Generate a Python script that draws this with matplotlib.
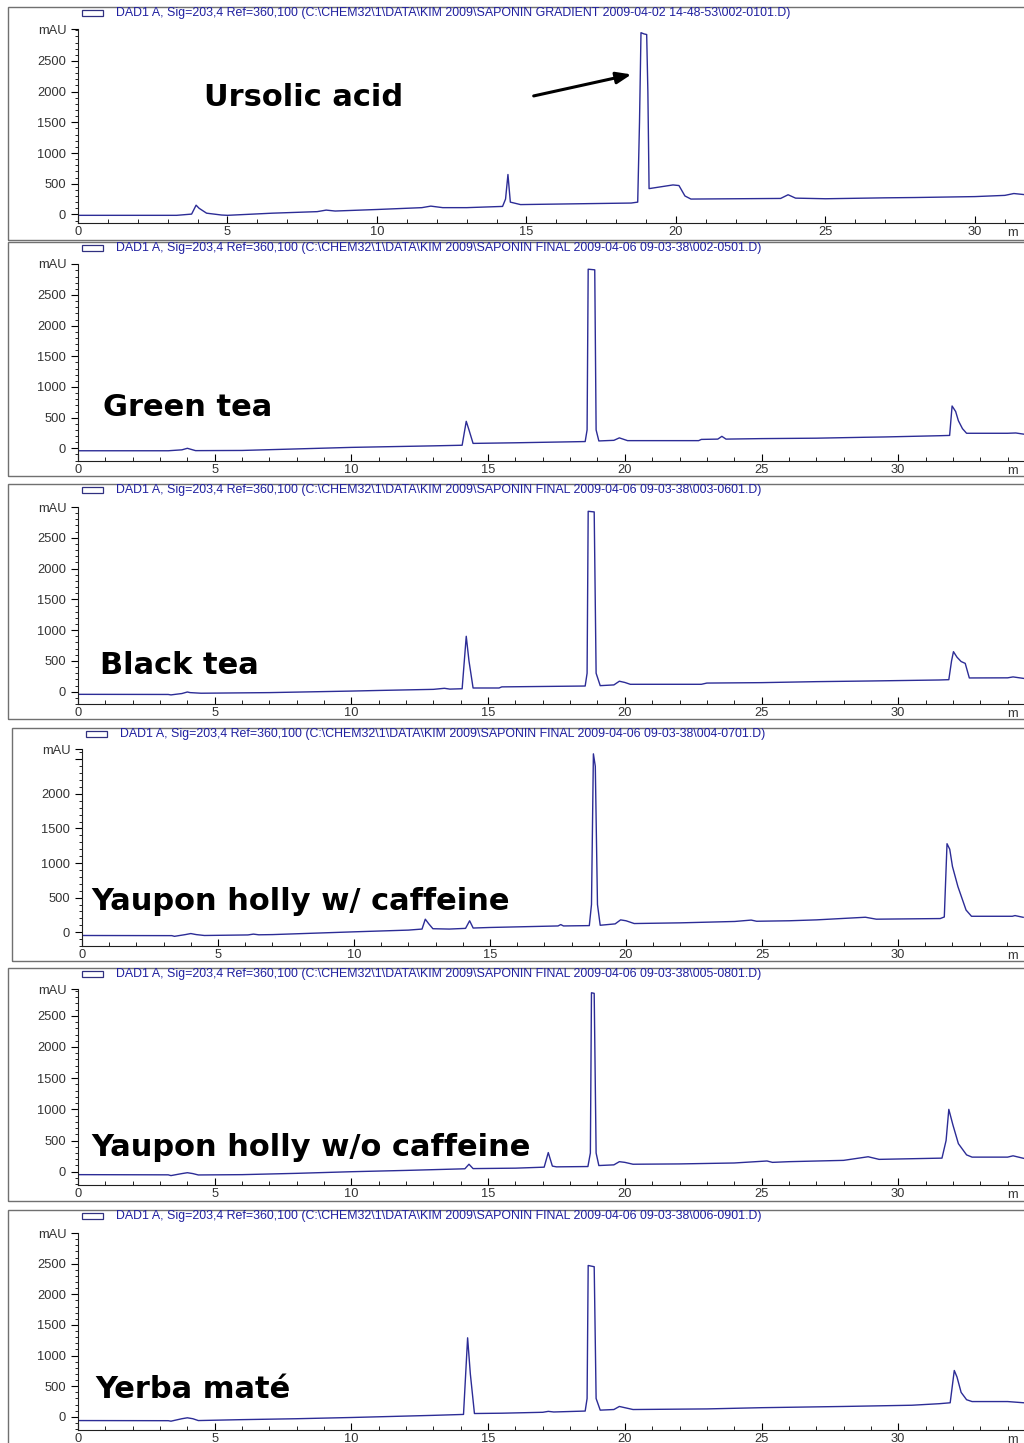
import matplotlib.pyplot as plt
import matplotlib.patches as patches
from matplotlib.ticker import MultipleLocator

W, H = 1024, 1443

# --- chromatogram traces (time in min, signal in mAU) ---
t_ursolic = [0, 3.3, 3.8, 3.95, 4.05, 4.3, 4.8, 5.0, 6.5, 8.0, 8.3, 8.6, 10.0, 11.5, 11.8, 12.2,
             13.0, 14.2, 14.3, 14.38, 14.46, 14.8, 17.0, 18.5, 18.72, 18.78, 18.83, 18.93, 19.02,
             19.06, 19.1, 19.5, 19.9, 20.1, 20.3, 20.5, 23.5, 23.75, 24.0, 25.0, 27.0, 28.0, 30.0,
             31.0, 31.3, 31.7]
v_ursolic = [-15, -15, 5, 150, 100, 20, -10, -15, 20, 45, 70, 55, 80, 110, 135, 110,
             110, 130, 250, 650, 200, 160, 175, 185, 200, 1500, 2960, 2940, 2930,
             2000, 420, 450, 480, 470, 300, 250, 260, 320, 265, 255, 270, 275, 290,
             310, 340, 320]

t_green = [0, 3.3, 3.8, 4.0, 4.3, 6.0, 8.0, 10.0, 13.0, 14.05, 14.2, 14.3, 14.45, 16.0, 18.55,
           18.62, 18.66, 18.9, 18.95, 19.05, 19.6, 19.8, 20.1, 22.7, 22.8, 23.4, 23.55, 23.7,
           25.0, 27.0, 28.8, 29.5, 31.5, 31.88, 31.97, 32.1, 32.2, 32.35, 32.5, 34.0, 34.3, 34.6]
v_green = [-40, -40, -25, 0, -38, -35, -10, 15, 40, 50, 440, 300, 80, 90, 110,
           300, 2920, 2910, 300, 120, 130, 170, 125, 125, 145, 150, 195, 150,
           158, 165, 180, 185, 205, 210, 690, 600, 450, 320, 245, 245, 250, 230]

t_black = [0, 3.3, 3.4, 3.8, 4.0, 4.1, 4.5, 7.0, 10.0, 11.0, 13.0, 13.4, 13.6, 14.05, 14.2, 14.3,
           14.45, 15.4, 15.5, 18.55, 18.62, 18.66, 18.88, 18.95, 19.1, 19.6, 19.8, 20.0, 20.2,
           22.8, 23.0, 25.0, 27.0, 29.0, 31.5, 31.85, 31.95, 32.02, 32.15, 32.3, 32.45, 32.6,
           34.0, 34.2, 34.6]
v_black = [-43, -45, -52, -30, -5, -15, -25, -15, 10, 20, 38, 55, 42, 48, 900, 500,
           60, 60, 78, 92, 300, 2930, 2920, 300, 98, 110, 170, 150, 120,
           120, 140, 147, 163, 174, 190, 195, 500, 650, 560, 490, 460, 223,
           225, 240, 215]

t_yaupon_caf = [0, 3.3, 3.4, 3.8, 4.0, 4.2, 4.5, 6.1, 6.3, 6.5, 7.0, 10.0, 12.0, 12.5, 12.62, 12.75,
                12.9, 13.5, 14.1, 14.25, 14.38, 15.0, 17.5, 17.6, 17.7, 18.65, 18.73, 18.8, 18.87,
                18.95, 19.05, 19.6, 19.8, 20.0, 20.3, 22.0, 24.0, 24.6, 24.8, 26.0, 27.0, 28.8,
                29.2, 31.55, 31.7, 31.8, 31.9, 32.0, 32.2, 32.5, 32.7, 34.2, 34.3, 34.6]
v_yaupon_caf = [-48, -50, -60, -35, -20, -35, -48, -40, -28, -38, -35, 5, 30, 45, 188, 120,
                50, 45, 55, 165, 60, 68, 90, 110, 90, 95, 400, 2580, 2400,
                400, 100, 120, 178, 165, 125, 135, 155, 175, 158, 165, 178, 216,
                188, 197, 220, 1280, 1200, 950, 660, 320, 230, 230, 240, 215]

t_yaupon_nocaf = [0, 3.3, 3.4, 3.8, 4.0, 4.2, 4.4, 6.0, 8.0, 10.0, 12.0, 14.15, 14.3, 14.45, 16.0,
                  17.05, 17.2, 17.35, 17.5, 18.65, 18.74, 18.78, 18.88, 18.95, 19.05, 19.6, 19.8,
                  20.0, 20.3, 22.0, 24.0, 25.2, 25.4, 26.0, 28.0, 28.9, 29.3, 31.6, 31.75, 31.85,
                  32.0, 32.2, 32.5, 32.7, 34.0, 34.2, 34.6]
v_yaupon_nocaf = [-47, -50, -62, -30, -16, -30, -52, -47, -26, 0, 21, 47, 120, 50, 57,
                  73, 307, 90, 78, 83, 300, 2870, 2860, 300, 99, 110, 161,
                  150, 120, 125, 140, 172, 150, 161, 182, 240, 198, 218, 500, 1000,
                  750, 450, 270, 234, 234, 255, 213]

t_yerba = [0, 3.3, 3.4, 3.8, 4.0, 4.2, 4.4, 6.0, 8.0, 10.0, 11.3, 13.0, 14.1, 14.25, 14.35, 14.5,
           15.5, 17.0, 17.2, 17.4, 18.55, 18.62, 18.66, 18.88, 18.95, 19.1, 19.6, 19.8, 20.0,
           20.3, 23.0, 25.0, 28.0, 30.5, 31.5, 31.9, 32.05, 32.15, 32.3, 32.5, 32.7, 34.0, 34.3,
           34.6]
v_yerba = [-60, -62, -70, -30, -15, -30, -60, -45, -30, -10, 5, 25, 40, 1290, 700, 55,
           60, 75, 90, 80, 95, 300, 2470, 2450, 300, 110, 120, 170, 150,
           120, 130, 150, 170, 190, 215, 230, 757, 650, 400, 280, 250, 250, 240,
           230]

names = ["Ursolic acid", "Green tea", "Black tea", "Yaupon holly w/ caffeine",
         "Yaupon holly w/o caffeine", "Yerba maté"]
files = ["SAPONIN GRADIENT 2009-04-02 14-48-53\\002-0101.D",
         "SAPONIN FINAL 2009-04-06 09-03-38\\002-0501.D",
         "SAPONIN FINAL 2009-04-06 09-03-38\\003-0601.D",
         "SAPONIN FINAL 2009-04-06 09-03-38\\004-0701.D",
         "SAPONIN FINAL 2009-04-06 09-03-38\\005-0801.D",
         "SAPONIN FINAL 2009-04-06 09-03-38\\006-0901.D"]
traces = [(t_ursolic, v_ursolic), (t_green, v_green), (t_black, v_black),
          (t_yaupon_caf, v_yaupon_caf), (t_yaupon_nocaf, v_yaupon_nocaf), (t_yerba, v_yerba)]

# layout in screen pixels: frame (l, t, b), axes (l, t, b), xmax, ymin, ymax, label (x, y)
frames = [(8, 7, 240), (8, 242, 476), (8, 484, 719), (12, 728, 961), (8, 968, 1201), (8, 1210, 1450)]
axboxes = [(78, 29, 223), (78, 264, 461), (78, 507, 704), (82, 749, 946), (78, 989, 1185), (78, 1233, 1430)]
xmaxes = [31.64, 34.6, 34.6, 34.63, 34.6, 34.6]
ymins = [-140, -207, -200, -200, -213, -214]
ymaxes = [3020, 3005, 3000, 2650, 2930, 3000]
label_pos = [(204, 97), (103, 407), (100, 666), (91, 902), (91, 1148), (95, 1390)]

line_col = "#2c2c96"
text_col = "#2020a0"
tick_font = ["Liberation Sans", "DejaVu Sans"]

fig = plt.figure(figsize=(W / 100, H / 100), dpi=100)
fig.patch.set_facecolor("white")

for i in range(6):
    fl, ft, fb = frames[i]
    fig.patches.append(patches.Rectangle((fl / W, 1 - fb / H), (1040 - fl) / W, (fb - ft) / H,
                                         transform=fig.transFigure, fill=False,
                                         edgecolor="#707070", linewidth=1.0))
    # header line with little legend box
    al, at, ab = axboxes[i]
    fig.patches.append(patches.Rectangle(((al + 4) / W, 1 - (ft + 9) / H), 21 / W, 6 / H,
                                         transform=fig.transFigure, fill=False,
                                         edgecolor="#303080", linewidth=0.9))
    fig.text((al + 38) / W, 1 - (ft + 6) / H,
             "DAD1 A, Sig=203,4 Ref=360,100 (C:\\CHEM32\\1\\DATA\\KIM 2009\\" + files[i] + ")",
             fontsize=8.9, color=text_col, family=tick_font, va="center", ha="left")

    ax = fig.add_axes([al / W, 1 - ab / H, (1024 - al) / W, (ab - at) / H])
    t, v = traces[i]
    ax.plot(t, v, color=line_col, linewidth=1.0)
    ax.set_xlim(0, xmaxes[i])
    ax.set_ylim(ymins[i], ymaxes[i])
    ax.set_facecolor("none")
    for s in ["top", "right"]:
        ax.spines[s].set_visible(False)
    for s in ["left", "bottom"]:
        ax.spines[s].set_linewidth(0.8)
        ax.spines[s].set_color("#202020")

    ax.xaxis.set_major_locator(MultipleLocator(5))
    ax.xaxis.set_minor_locator(MultipleLocator(1))
    ax.tick_params(axis="x", which="major", direction="in", length=5, width=0.8,
                   labelsize=9.3, pad=2.5, labelcolor="#333333")
    ax.tick_params(axis="x", which="minor", direction="in", length=3, width=0.6)

    yt = [0, 500, 1000, 1500, 2000, 2500, ymaxes[i]]
    yl = ["0", "500", "1000", "1500", "2000", "2500", "mAU"]
    if i == 3:
        yl[5] = ""
    ax.set_yticks(yt)
    ax.set_yticklabels(yl)
    ax.yaxis.set_minor_locator(MultipleLocator(100))
    ax.tick_params(axis="y", which="major", direction="out", length=5, width=0.8,
                   labelsize=9.3, pad=3.5, labelcolor="#333333")
    ax.tick_params(axis="y", which="minor", direction="out", length=2.5, width=0.6)
    for lab in ax.get_xticklabels() + ax.get_yticklabels():
        lab.set_family(tick_font)

    ax.text(0.993, -0.022, "m", transform=ax.transAxes, fontsize=9.3, color="#333333",
            family=tick_font, ha="right", va="top")

    lx, ly = label_pos[i]
    fig.text(lx / W, 1 - ly / H, names[i], fontsize=22, fontweight="bold",
             color="black", va="center", ha="left")

    if i == 0:
        ax.annotate("", xy=(18.6, 2290), xytext=(15.15, 1920),
                    arrowprops=dict(arrowstyle="-|>,head_length=0.9,head_width=0.35",
                                    color="black", linewidth=2.2))

fig.savefig("out.png", dpi=100)
